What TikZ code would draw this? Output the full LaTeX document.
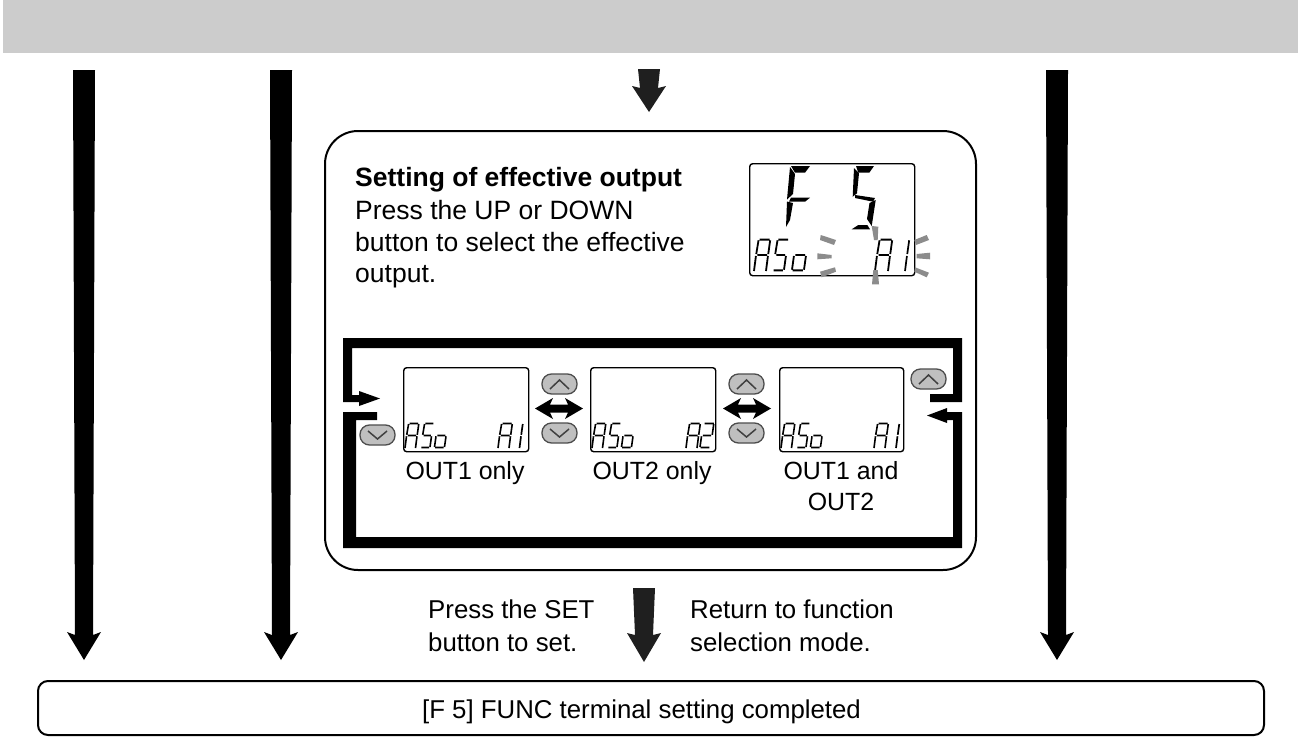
\documentclass[tikz,border=0pt]{standalone}
\usepackage{fontspec}
\setmainfont{Liberation Sans}
\begin{document}
\begin{tikzpicture}[x=1pt,y=-1pt,line join=miter,
  txt/.style={inner sep=0pt,anchor=base west,font=\fontsize{26.5}{30}\selectfont},
  ltxt/.style={inner sep=0pt,anchor=base west,font=\fontsize{25.8}{30}\selectfont},
  ctxt/.style={inner sep=0pt,anchor=base,font=\fontsize{25.8}{30}\selectfont},
  otxt/.style={inner sep=0pt,anchor=base,font=\fontsize{24.9}{30}\selectfont},
  lcd/.style={draw=black,line width=1.4pt,rounded corners=3pt,fill=white},
  framebox/.style={draw=black,line width=2pt,fill=white},
  btn/.style={draw=black!70,line width=1.3pt,fill=black!25,rounded corners=9.5pt},
  chev/.style={draw=black!75,line width=1.5pt},
  sparkle/.style={fill=black!45,draw=none},
  smallseg/.style={line cap=butt}]
\useasboundingbox (0,0) rectangle (1298,736);
\fill[black!20] (3,0) rectangle (1298,53);
% big straight arrows
\newcommand{\bigarrow}[1]{%
  \fill[black] (#1-11,70) -- (#1+11,70) -- (#1+9,635) -- (#1+17,632) -- (#1,660) -- (#1-17,632) -- (#1-9,635) -- cycle;}
\bigarrow{84}
\bigarrow{281}
\bigarrow{1057}
% centre arrows
\fill[black!88] (638,69) -- (660,69) -- (658,88) -- (666,86) -- (649,112) -- (632,86) -- (640,88) -- cycle;
\fill[black!88] (633,588) -- (655,588) -- (653,635) -- (661,633) -- (644,662) -- (627,633) -- (635,635) -- cycle;
% frames
\node[framebox,rounded corners=33pt,minimum width=651pt,minimum height=439pt,inner sep=0pt,anchor=north west] (main) at (324,130) {};
\node[framebox,rounded corners=10pt,minimum width=1226pt,minimum height=54pt,inner sep=0pt,anchor=north west] (done) at (37,680) {};
% text
\node[txt,font=\fontsize{26.5}{30}\selectfont\bfseries] (t0) at (355,186) {Setting of effective output};
\node[txt] (t1) at (355,219) {Press the UP or DOWN};
\node[txt] (t2) at (355,251) {button to select the effective};
\node[txt] (t3) at (355,282) {output.};
\node[ltxt] (p1) at (428,618) {Press the SET};
\node[ltxt] (p2) at (428,651) {button to set.};
\node[ltxt] (r1) at (690,618) {Return to function};
\node[ltxt] (r2) at (690,651) {selection mode.};
\node[ctxt] (ft) at (641.5,718) {[F 5] FUNC terminal setting completed};
\node[otxt] (c1) at (465,479) {OUT1 only};
\node[otxt] (c2) at (652,479) {OUT2 only};
\node[otxt] (c3) at (841,479) {OUT1 and};
\node[otxt] (c4) at (841,510) {OUT2};
% loop
\fill[black] (343,338) -- (962,338) -- (962,402) -- (930,402) -- (930,394) -- (953,394) -- (953,348) -- (352,348) -- (352,395) -- (359,395) -- (359,391) -- (380,398.5) -- (359,406) -- (359,402) -- (343,402) -- cycle;
\fill[black] (343,412) -- (377,412) -- (377,420) -- (356,420) -- (356,537) -- (953,537) -- (953,420) -- (947,420) -- (947,423) -- (927,415.5) -- (947,408) -- (947,412) -- (962,412) -- (962,548) -- (343,548) -- cycle;
% double arrows
\newcommand{\dblarrow}[1]{%
 \fill[black] (#1,408.5) -- (#1+18,398) -- (#1+15,404.5) -- (#1+33,404.5) -- (#1+30,398) -- (#1+48,408.5) -- (#1+30,419) -- (#1+33,412.5) -- (#1+15,412.5) -- (#1+18,419) -- cycle;}
\dblarrow{535}
\dblarrow{723}
% buttons
\newcommand{\upbtn}[2]{% left, top
  \draw[btn] (#1,#2) rectangle ++(35,20);
  \draw[chev] (#1+8,#2+15) -- (#1+17.5,#2+6) -- (#1+27,#2+15);}
\newcommand{\downbtn}[2]{%
  \draw[btn] (#1,#2) rectangle ++(35,20);
  \draw[chev] (#1+8,#2+6) -- (#1+17.5,#2+14) -- (#1+27,#2+6);}
\upbtn{542}{374}\downbtn{542}{423}
\upbtn{729}{374}\downbtn{729}{423}
\upbtn{911}{369}\downbtn{360}{425}
% seven segment helpers: x left, y baseline, width, height, line width
\newcommand{\sgA}[5]{% letter A
  \draw[smallseg,line width=#5] (#1+#4*0.13+0.12*#3,#2-#4*0.98) -- (#1+#3+#4*0.13-0.05*#3,#2-#4*0.98)
   (#1+#4*0.13+0.03*#3,#2-#4*0.96) -- (#1+#4*0.07,#2-#4*0.53)
   (#1+#4*0.13+#3,#2-#4*0.96) -- (#1+#4*0.07+#3,#2-#4*0.53)
   (#1+#4*0.07+0.1*#3,#2-#4*0.5) -- (#1+#4*0.07+0.9*#3,#2-#4*0.5)
   (#1+#4*0.06,#2-#4*0.47) -- (#1,#2)
   (#1+#4*0.06+#3,#2-#4*0.47) -- (#1+#3,#2);}
\newcommand{\sgFive}[5]{%
  \draw[smallseg,line width=#5] (#1+#4*0.13+0.12*#3,#2-#4*0.98) -- (#1+#3+#4*0.13,#2-#4*0.98)
   (#1+#4*0.13+0.03*#3,#2-#4*0.96) -- (#1+#4*0.07,#2-#4*0.53)
   (#1+#4*0.07+0.1*#3,#2-#4*0.5) -- (#1+#4*0.07+0.9*#3,#2-#4*0.5)
   (#1+#4*0.06+#3,#2-#4*0.47) -- (#1+#3,#2-#4*0.04)
   (#1+0.05*#3,#2-#4*0.02) -- (#1+0.9*#3,#2-#4*0.02);}
\newcommand{\sgO}[5]{%
  \draw[smallseg,line width=#5] (#1+#4*0.07+0.1*#3,#2-#4*0.5) -- (#1+#4*0.07+0.9*#3,#2-#4*0.5)
   (#1+#4*0.06,#2-#4*0.47) -- (#1,#2-#4*0.04)
   (#1+#4*0.06+#3,#2-#4*0.47) -- (#1+#3,#2-#4*0.04)
   (#1+0.05*#3,#2-#4*0.02) -- (#1+0.9*#3,#2-#4*0.02);}
\newcommand{\sgOne}[3]{% right segments only: x, baseline, height
  \draw[smallseg,line width=1.7pt] (#1+#3*0.13,#2-#3*0.96) -- (#1+#3*0.07,#2-#3*0.53)
   (#1+#3*0.06,#2-#3*0.47) -- (#1,#2);}
\newcommand{\sgTwo}[5]{%
  \draw[smallseg,line width=#5] (#1+#4*0.13+0.12*#3,#2-#4*0.98) -- (#1+#3+#4*0.13,#2-#4*0.98)
   (#1+#4*0.13+#3,#2-#4*0.96) -- (#1+#4*0.07+#3,#2-#4*0.53)
   (#1+#4*0.07+0.1*#3,#2-#4*0.5) -- (#1+#4*0.07+0.9*#3,#2-#4*0.5)
   (#1+#4*0.06,#2-#4*0.47) -- (#1,#2-#4*0.04)
   (#1+0.05*#3,#2-#4*0.02) -- (#1+0.9*#3,#2-#4*0.02);}
% small LCDs
\node[lcd,minimum width=125pt,minimum height=84pt,inner sep=0pt,anchor=north west] (l1) at (403,367) {};
\node[lcd,minimum width=125pt,minimum height=84pt,inner sep=0pt,anchor=north west] (l2) at (590,367) {};
\node[lcd,minimum width=124pt,minimum height=84pt,inner sep=0pt,anchor=north west] (l3) at (779,367) {};
\sgA{405}{448}{10.5}{25}{1.6pt}\sgFive{421}{448}{9}{25}{1.6pt}\sgO{434.5}{448}{10}{25}{1.6pt}
\sgA{498}{448}{11}{25}{1.6pt}\sgOne{519.5}{448}{25}
\sgA{592}{448}{10.5}{25}{1.6pt}\sgFive{608}{448}{9}{25}{1.6pt}\sgO{621.5}{448}{10}{25}{1.6pt}
\sgA{686}{448}{11}{25}{1.6pt}\sgTwo{700}{448}{10.5}{25}{1.6pt}
\sgA{781}{448}{10.5}{25}{1.6pt}\sgFive{797}{448}{9}{25}{1.6pt}\sgO{810.5}{448}{10}{25}{1.6pt}
\sgA{874}{448}{11}{25}{1.6pt}\sgOne{896}{448}{25}
% main LCD
\node[lcd,minimum width=165pt,minimum height=112pt,inner sep=0pt,anchor=north west] (big) at (749,163) {};
% big F
\fill[black] (791,166) -- (810,166) -- (805,172.7) -- (795,172.7) -- cycle;
\fill[black] (790,167) -- (795,174) -- (793,194) -- (787,199.5) -- cycle;
\fill[black] (791,197.7) -- (810,197.7) -- (805,201.7) -- (789,201.7) -- cycle;
\fill[black] (787,201.5) -- (793,203) -- (790,220) -- (786,227) -- cycle;
% big 5
\fill[black] (856,166) -- (874,166) -- (869.3,172.7) -- (858.3,172.7) -- cycle;
\fill[black] (854,168) -- (859,173.3) -- (857,193.3) -- (852.7,196.7) -- cycle;
\fill[black] (855,195) -- (875,198) -- (873,201.7) -- (855,198) -- cycle;
\fill[black] (875.7,200) -- (871.7,226) -- (867,219) -- (869.5,203) -- cycle;
\fill[black] (851.7,229.3) -- (858.3,225) -- (867.3,225) -- (870,229.3) -- cycle;
% main LCD small text
\sgA{754}{271}{12}{32}{1.8pt}\sgFive{773}{271}{11}{32}{1.8pt}\sgO{792}{271}{12}{32}{1.8pt}
\sgA{875}{271}{13}{32}{1.8pt}\sgOne{905}{271}{32}
% sparkles
\fill[sparkle] (820.7,235) -- (836,240) -- (834,245) -- (820,240) -- cycle;
\fill[sparkle] (817.3,253.3) -- (831.7,255) -- (831.7,258.3) -- (817.3,259.3) -- cycle;
\fill[sparkle] (820,271.7) -- (835,267.3) -- (836,271.7) -- (821.7,277.3) -- cycle;
\fill[sparkle] (871.7,226) -- (878.3,226.7) -- (877.7,240) -- (874,240) -- cycle;
\fill[sparkle] (873.3,270) -- (877.7,270) -- (879,284.3) -- (872,284.3) -- cycle;
\fill[sparkle] (914.3,240) -- (926.7,235) -- (929,240) -- (916,245) -- cycle;
\fill[sparkle] (916.7,254) -- (930,252.7) -- (930,259.3) -- (916.7,258.3) -- cycle;
\fill[sparkle] (915,267.3) -- (929,272.7) -- (926.7,277.3) -- (914.3,271.7) -- cycle;
\end{tikzpicture}
\end{document}
